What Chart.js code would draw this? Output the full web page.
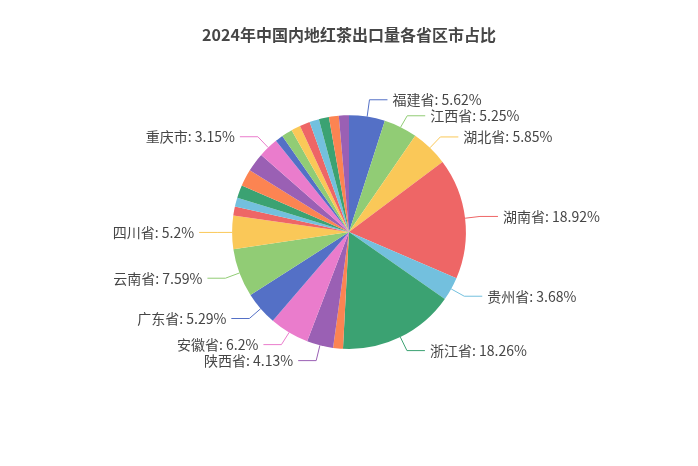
<!DOCTYPE html>
<html lang="zh">
<head>
  <meta charset="UTF-8" />
  <title>2024年中国内地红茶出口量各省区市占比</title>
  <script src="https://cdn.jsdelivr.net/npm/chart.js"></script>
  <style>
    body { margin: 0; background: #fff; }
    #wrap { width: 698px; height: 466px; }
  </style>
</head>
<body>
  <div id="wrap"><canvas id="teaChart"></canvas></div>

  <script>
    // data (percent labels)
    const provinces = ['福建省', '江西省', '湖北省', '湖南省', '贵州省', '浙江省', '上海市', '陕西省', '安徽省',
      '广东省', '云南省', '四川省', '广西壮族自治区', '河南省', '山东省', '江苏省', '天津市', '重庆市',
      '北京市', '海南省', '甘肃省', '吉林省', '辽宁省', '河北省', '山西省', '黑龙江省'];
    const shares = [5.62, 5.25, 5.85, 18.92, 3.68, 18.26, 1.54, 4.13, 6.2,
      5.29, 7.59, 5.2, 1.42, 1.42, 2.0, 2.65, 2.95, 3.15,
      1.23, 1.7, 1.45, 1.6, 1.5, 1.58, 1.54, 1.58];
    const palette = ['#5470c6', '#91cc75', '#fac858', '#ee6666', '#73c0de', '#3ba272', '#fc8452', '#9a60b4', '#ea7ccc'];
    const labelMin = 3.1; // smaller slices have no label in the reference

    const FONT = '"Noto Sans CJK SC", "Noto Sans", sans-serif';

    // outside labels with two-segment leader lines
    const pieLabels = {
      id: 'pieLabels',
      afterDatasetsDraw(chart) {
        const ctx = chart.ctx;
        const arcs = chart.getDatasetMeta(0).data;
        const items = [];
        arcs.forEach((arc, i) => {
          if (shares[i] < labelMin) return;
          const mid = (arc.startAngle + arc.endAngle) / 2;
          const r = arc.outerRadius;
          const cx = Math.cos(mid), cy = Math.sin(mid);
          items.push({
            x0: arc.x + cx * r, y0: arc.y + cy * r,
            x1: arc.x + cx * (r + 15), ty: arc.y + cy * (r + 15),
            right: cx >= 0,
            text: provinces[i] + ': ' + shares[i] + '%',
            color: palette[i % palette.length]
          });
        });

        [true, false].forEach(side => {
          const list = items.filter(o => o.right === side).sort((a, b) => a.ty - b.ty);
          for (let k = 0; k < 10; k++) {
            for (let j = 1; j < list.length; j++) {
              const gap = list[j].ty - list[j - 1].ty;
              if (gap < 16) {
                const s = (16 - gap) / 2;
                list[j - 1].ty -= s;
                list[j].ty += s;
              }
            }
          }
        });

        ctx.save();
        ctx.font = '14px ' + FONT;
        ctx.textBaseline = 'middle';
        items.forEach(o => {
          const x2 = o.x1 + (o.right ? 18 : -18);
          ctx.strokeStyle = o.color;
          ctx.lineWidth = 1;
          ctx.beginPath();
          ctx.moveTo(o.x0, o.y0);
          ctx.lineTo(o.x1, o.ty);
          ctx.lineTo(x2, o.ty);
          ctx.stroke();
          ctx.fillStyle = '#464646';
          ctx.textAlign = o.right ? 'left' : 'right';
          ctx.fillText(o.text, x2 + (o.right ? 5 : -5), o.ty);
        });
        ctx.restore();
      }
    };

    new Chart(document.getElementById('teaChart'), {
      type: 'pie',
      data: {
        labels: provinces,
        datasets: [{
          data: shares,
          backgroundColor: provinces.map((p, i) => palette[i % palette.length]),
          borderWidth: 0
        }]
      },
      options: {
        responsive: true,
        maintainAspectRatio: false,
        animation: false,
        layout: { padding: { top: 0, bottom: 117, left: 0, right: 0 } },
        plugins: {
          legend: { display: false },
          tooltip: { enabled: false },
          title: {
            display: true,
            text: '2024年中国内地红茶出口量各省区市占比',
            color: '#464646',
            font: { family: FONT, size: 16, weight: 'bold' },
            padding: { top: 25, bottom: 71 }
          }
        }
      },
      plugins: [pieLabels]
    });
  </script>
</body>
</html>
